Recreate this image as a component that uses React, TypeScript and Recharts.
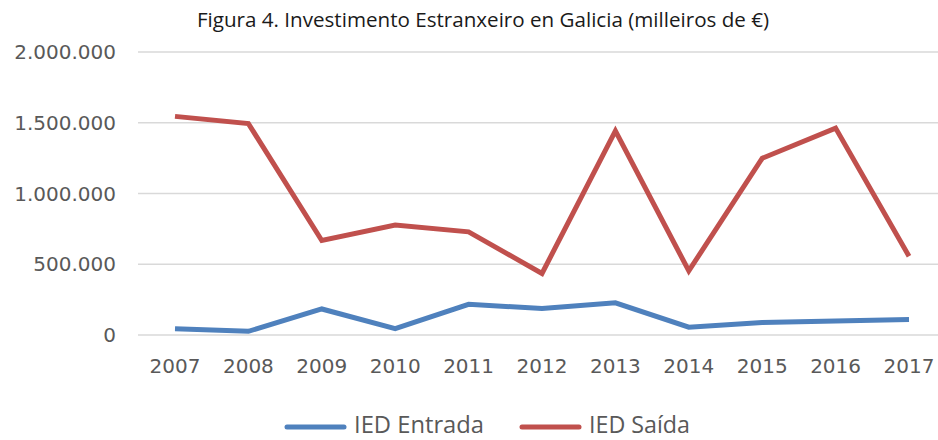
import React from 'react';
import { LineChart, Line, XAxis, YAxis, CartesianGrid, Legend } from 'recharts';

const years = ['2007', '2008', '2009', '2010', '2011', '2012', '2013', '2014', '2015', '2016', '2017'];
const iedEntrada = [45000, 26000, 184000, 45000, 217000, 187000, 227000, 55000, 88000, 99000, 109000];
const iedSaida = [1545000, 1494000, 668000, 777000, 729000, 435000, 1442000, 453000, 1249000, 1462000, 557000];
const yTicks = [0, 500000, 1000000, 1500000, 2000000];

const data = years.map((year, i) => ({
  year,
  entrada: iedEntrada[i],
  saida: iedSaida[i]
}));

const BLUE = '#4F81BD';
const RED = '#C0504D';
const GREY = '#595959';

const formatThousands = (v: number) => String(v).replace(/\B(?=(\d{3})+(?!\d))/g, '.');

const legendItems = [
  { label: 'IED Entrada', color: BLUE, textWidth: 130 },
  { label: 'IED Saída', color: RED, textWidth: 101 }
];

function ChartLegend() {
  return (
    <div style={{ display: 'flex', gap: 13, paddingLeft: 284, boxSizing: 'border-box', width: 938 }}>
      {legendItems.map((item) => (
        <svg key={item.label} width={92 + item.textWidth} height={34}>
          <line x1={3} y1={22} x2={60} y2={22} stroke={item.color} strokeWidth={5} strokeLinecap="round" />
          <text
            x={70}
            y={27.5}
            fill={GREY}
            fontSize={24.5}
            fontFamily="'Open Sans', sans-serif"
            textLength={item.textWidth}
            lengthAdjust="spacingAndGlyphs"
          >
            {item.label}
          </text>
        </svg>
      ))}
    </div>
  );
}

export default function App() {
  return (
    <div style={{ position: 'absolute', left: 0, top: 0, width: 938, height: 440, overflow: 'hidden', background: '#fff' }}>
      <svg width={938} height={40} style={{ position: 'absolute', left: 0, top: 0 }}>
        <text x={483} y={27} textAnchor="middle" fontSize={20.6} fill="#1a1a1a" fontFamily="'Open Sans', sans-serif">
          Figura 4. Investimento Estranxeiro en Galicia (milleiros de €)
        </text>
      </svg>
      <LineChart width={960} height={440} data={data} margin={{ top: 52, right: 14, left: 0, bottom: 0 }}>
        <CartesianGrid vertical={false} stroke="#d9d9d9" strokeWidth={1.5} />
        <XAxis
          dataKey="year"
          axisLine={false}
          tickLine={false}
          padding={{ left: 37, right: 37 }}
          tick={{ fill: GREY, fontSize: 20, fontFamily: "'DejaVu Sans', sans-serif" }}
          tickMargin={18}
          height={71}
          interval={0}
        />
        <YAxis
          domain={[0, 2000000]}
          ticks={yTicks}
          axisLine={false}
          tickLine={false}
          width={138}
          tickMargin={16}
          tickFormatter={formatThousands}
          tick={{ fill: GREY, fontSize: 20, fontFamily: "'DejaVu Sans', sans-serif" }}
        />
        <Legend
          verticalAlign="bottom"
          content={() => <ChartLegend />}
          wrapperStyle={{ position: 'absolute', left: 0, top: 405, width: 938 }}
        />
        <Line
          type="linear"
          dataKey="entrada"
          name="IED Entrada"
          stroke={BLUE}
          strokeWidth={5}
          dot={false}
          isAnimationActive={false}
        />
        <Line
          type="linear"
          dataKey="saida"
          name="IED Saída"
          stroke={RED}
          strokeWidth={5}
          dot={false}
          isAnimationActive={false}
        />
      </LineChart>
    </div>
  );
}
